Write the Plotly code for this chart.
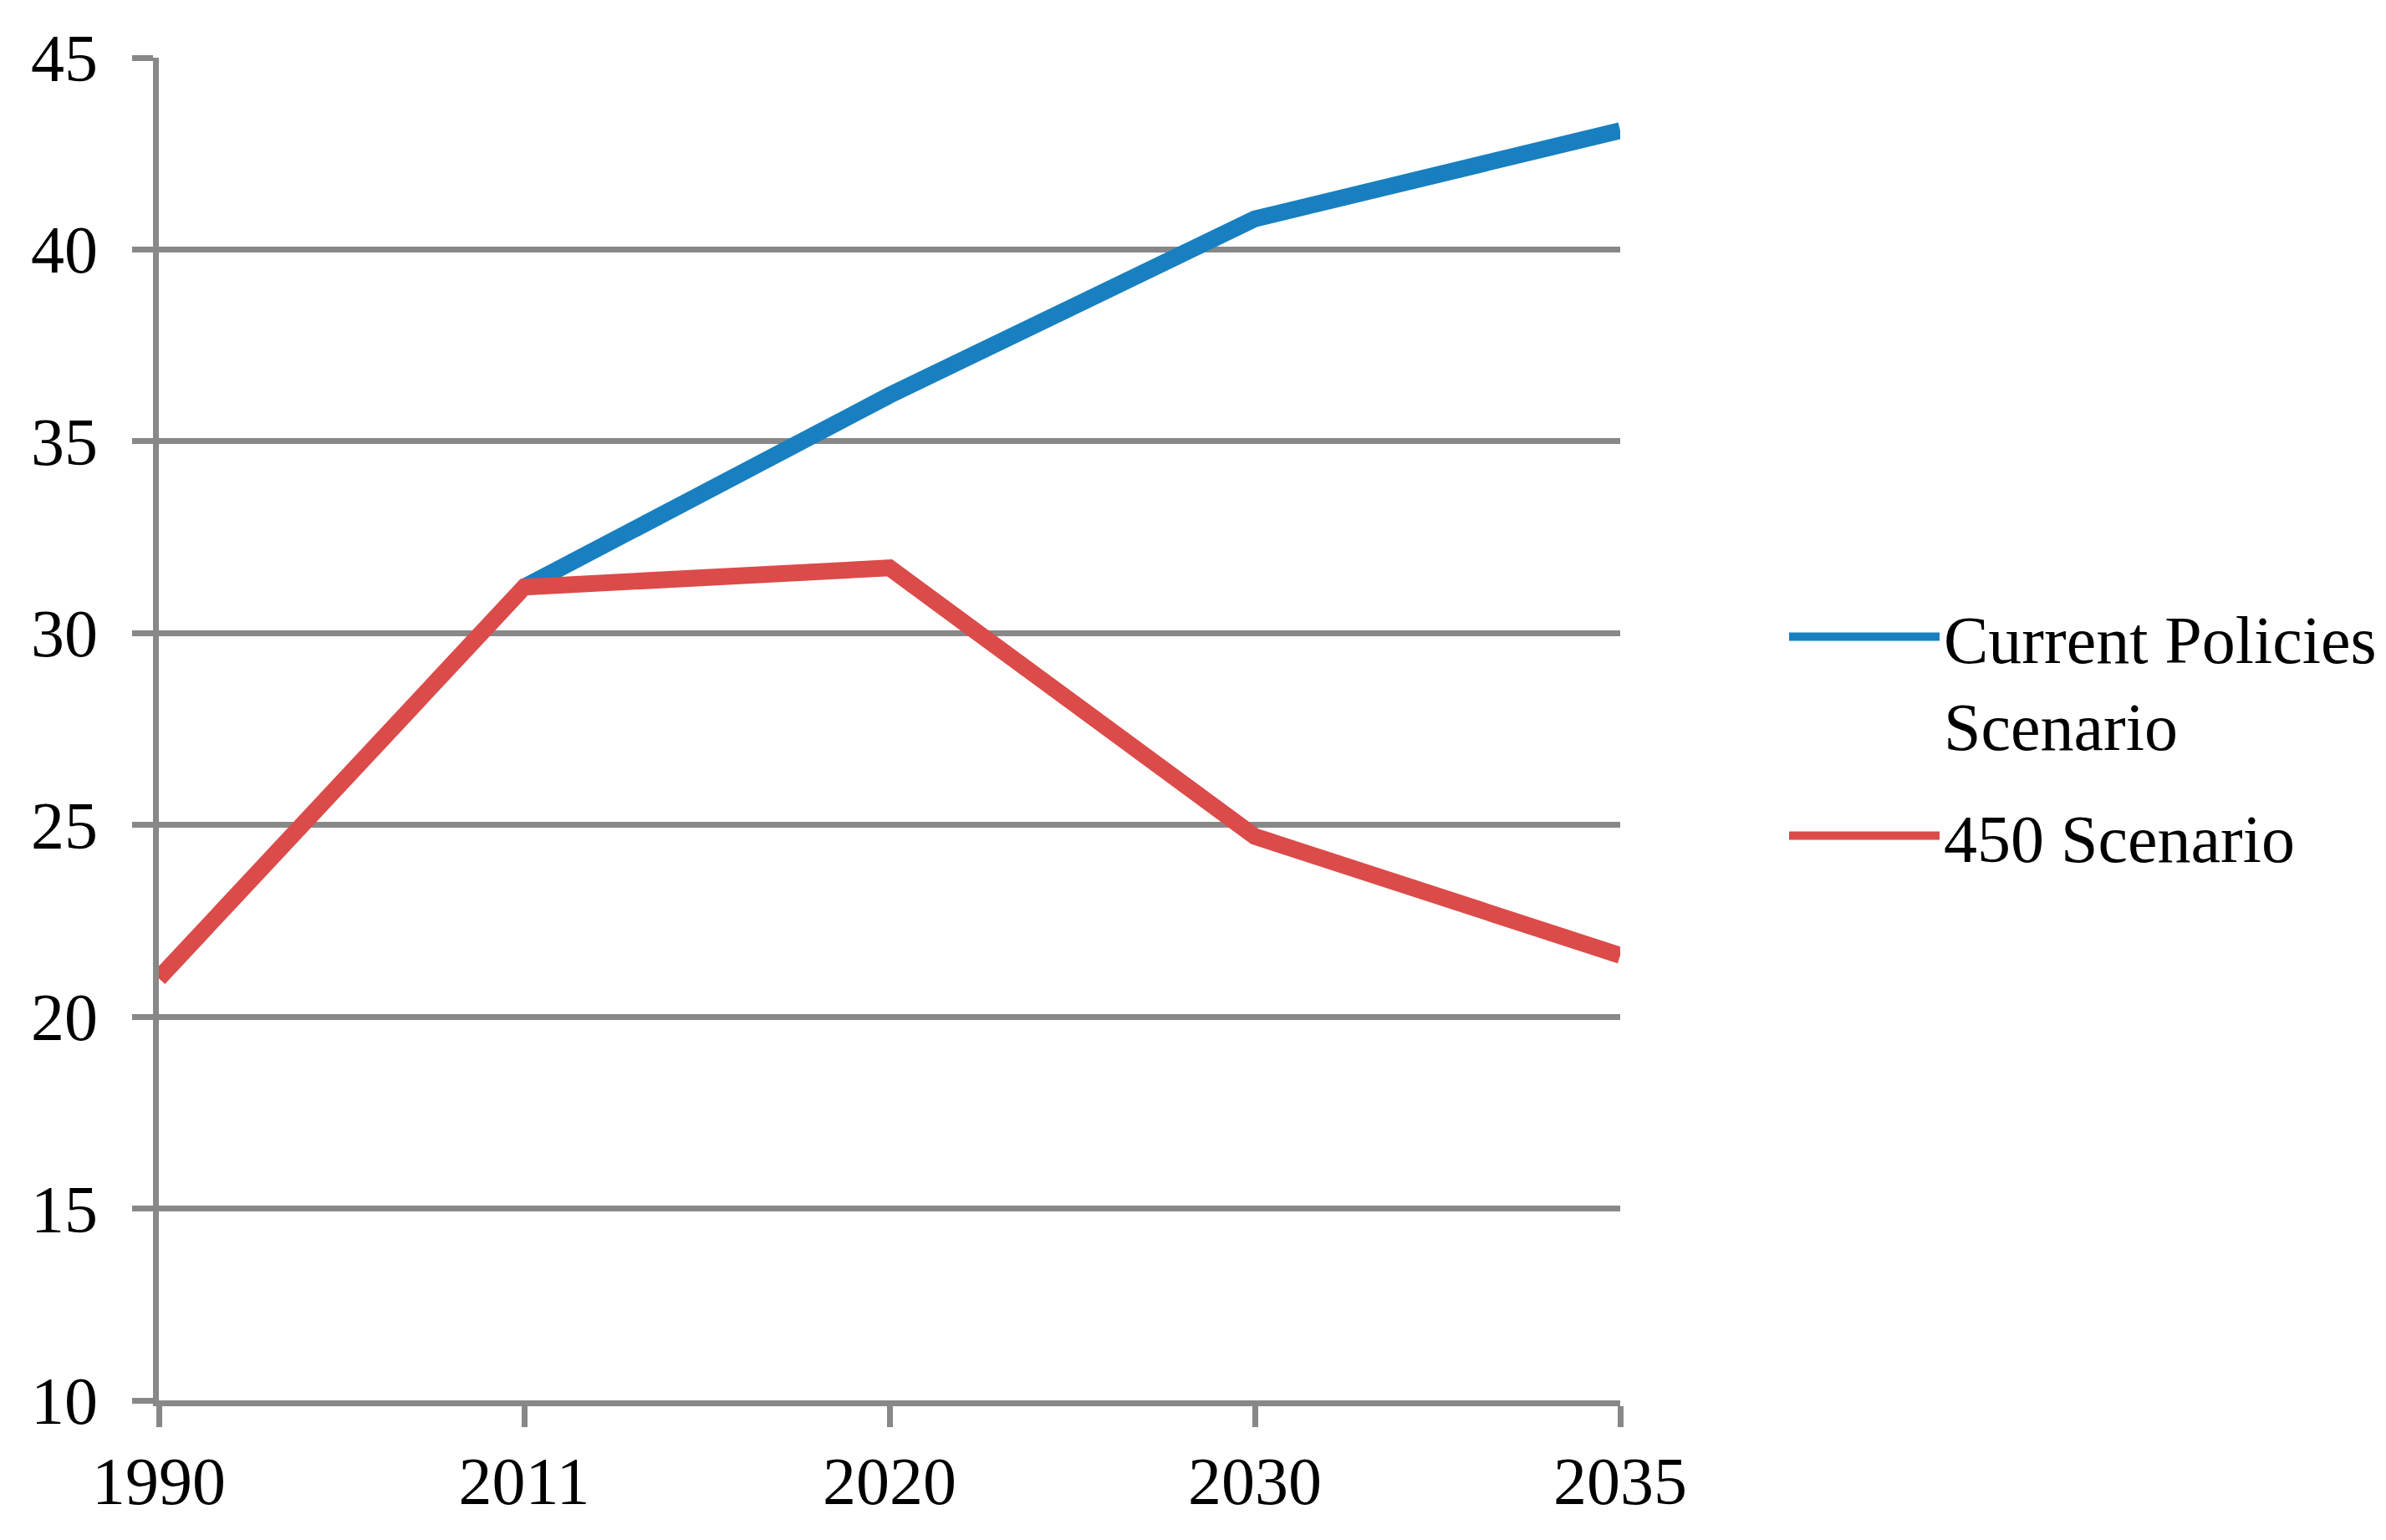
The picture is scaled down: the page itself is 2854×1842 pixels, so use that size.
import plotly.graph_objects as go

years = ["1990", "2011", "2020", "2030", "2035"]
current_policies = [None, 31.2, 36.2, 40.8, 43.1]
scenario_450 = [21.0, 31.2, 31.7, 24.7, 21.6]
y_ticks = [10, 15, 20, 25, 30, 35, 40, 45]

GRAY = "#888888"
FONT = dict(family="Liberation Serif, Times New Roman, serif", size=80, color="black")

fig = go.Figure()
fig.add_trace(go.Scatter(x=years, y=current_policies, mode="lines",
                         name="Current Policies<br>Scenario", legendgroup="cps",
                         line=dict(color="#1880C0", width=20)))
fig.add_trace(go.Scatter(x=years, y=scenario_450, mode="lines",
                         name="450 Scenario", legendgroup="s450",
                         line=dict(color="#DB4B4A", width=20)))

fig.update_layout(
    width=2854, height=1842, autosize=False,
    margin=dict(l=182, r=924, t=61, b=175),
    paper_bgcolor="white", plot_bgcolor="white",
    font=FONT,
    showlegend=True,
    legend=dict(x=1.1127, y=0.6052, xanchor="left", yanchor="top",
                font=FONT, itemwidth=180, valign="top",
                traceorder="grouped", tracegroupgap=27,
                bgcolor="rgba(0,0,0,0)"),
    xaxis=dict(type="category", categoryorder="array", categoryarray=years,
               range=[0, 4], showgrid=False, zeroline=False,
               showline=True, linecolor=GRAY, linewidth=7,
               ticks="outside", ticklen=25, tickwidth=7, tickcolor=GRAY,
               tickfont=FONT, ticklabelstandoff=-4),
    yaxis=dict(range=[10, 45], tickvals=y_ticks, showgrid=True,
               gridcolor=GRAY, gridwidth=7, zeroline=False,
               showline=True, linecolor=GRAY, linewidth=7,
               ticks="outside", ticklen=25, tickwidth=7, tickcolor=GRAY,
               tickfont=FONT, ticklabelstandoff=25),
)

fig.write_html("out.html")
